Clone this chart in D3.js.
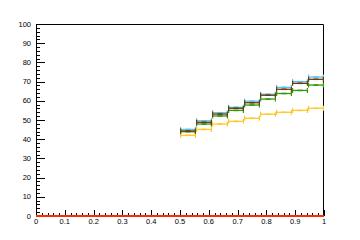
<!DOCTYPE html>
<html>
<head>
<meta charset="utf-8">
<script src="https://cdn.jsdelivr.net/npm/d3@7"></script>
<style>
  body { margin: 0; background: #fff; }
  svg { display: block; }
  text { font-family: "Liberation Sans", Arial, sans-serif; font-size: 7.5px; fill: #000; }
</style>
</head>
<body>
<div id="chart"></div>
<script>
// bin edges (9 bins from 0.5 to 1)
var binEdges = [0.5, 0.5556, 0.6111, 0.6667, 0.7222, 0.7778, 0.8333, 0.8889, 0.9444, 1.0];

// series values, one per bin
var blueVals   = [45.1, 49.6, 53.8, 56.6, 59.8, 63.4, 67.0, 70.0, 72.4];
var brownVals  = [44.3, 48.8, 53.1, 56.1, 59.0, 62.9, 66.0, 69.1, 71.2];
var greenVals  = [43.9, 47.9, 52.1, 55.0, 57.8, 60.9, 63.8, 65.4, 68.2];
var yellowVals = [42.0, 45.1, 47.9, 49.3, 50.9, 53.0, 54.0, 55.0, 56.1];
var errVals    = [0.4, 0.4, 0.4, 0.4, 0.4, 0.4, 0.4, 0.4, 0.4];

var xTicks = [0, 0.1, 0.2, 0.3, 0.4, 0.5, 0.6, 0.7, 0.8, 0.9, 1];
var yTicks = [0, 10, 20, 30, 40, 50, 60, 70, 80, 90, 100];

var W = 360, H = 240;
var margin = {left: 36, right: 36, top: 24, bottom: 24};

var svg = d3.select("#chart").append("svg").attr("width", W).attr("height", H);

var x = d3.scaleLinear().domain([0, 1]).range([margin.left, W - margin.right]);
var y = d3.scaleLinear().domain([0, 100]).range([H - margin.bottom, margin.top]);

// frame top and right
svg.append("path")
   .attr("d", "M" + x(0) + "," + (y(100)+0.5) + "H" + (x(1)-0.5) + "V" + y(0))
   .attr("fill", "none").attr("stroke", "#000").attr("stroke-width", 1);

// minor ticks
var xMinor = d3.range(0, 51).map(function(i){ return i / 50; });
var yMinor = d3.range(0, 51).map(function(i){ return i * 2; });

// x axis (ticks pointing up into frame)
var gx = svg.append("g").attr("transform", "translate(0," + y(0) + ")");
gx.selectAll(".minor").data(xMinor).enter().append("line")
  .attr("x1", function(d){ return Math.round(x(d)) + 0.5; })
  .attr("x2", function(d){ return Math.round(x(d)) + 0.5; })
  .attr("y1", 0).attr("y2", -3)
  .attr("stroke", "#000");
gx.selectAll(".major").data(xTicks).enter().append("line")
  .attr("x1", function(d){ return Math.round(x(d)) + 0.5; })
  .attr("x2", function(d){ return Math.round(x(d)) + 0.5; })
  .attr("y1", 0).attr("y2", -6)
  .attr("stroke", "#000");
gx.selectAll("text").data(xTicks).enter().append("text")
  .attr("x", function(d){ return x(d); })
  .attr("y", 8)
  .attr("text-anchor", "middle")
  .text(function(d){ return d; });
gx.append("line").attr("x1", x(0)).attr("x2", x(1)).attr("y1", 0.5).attr("y2", 0.5).attr("stroke", "#000");

// y axis (ticks pointing right into frame)
var gy = svg.append("g").attr("transform", "translate(" + x(0) + ",0)");
gy.selectAll(".minor").data(yMinor).enter().append("line")
  .attr("y1", function(d){ return Math.round(y(d)) + 0.5; })
  .attr("y2", function(d){ return Math.round(y(d)) + 0.5; })
  .attr("x1", 0).attr("x2", 4)
  .attr("stroke", "#000");
gy.selectAll(".major").data(yTicks).enter().append("line")
  .attr("y1", function(d){ return Math.round(y(d)) + 0.5; })
  .attr("y2", function(d){ return Math.round(y(d)) + 0.5; })
  .attr("x1", 0).attr("x2", 9)
  .attr("stroke", "#000");
gy.selectAll("text").data(yTicks).enter().append("text")
  .attr("x", -5)
  .attr("y", function(d){ return y(d); })
  .attr("dy", "0.35em")
  .attr("text-anchor", "end")
  .text(function(d){ return d; });
gy.append("line").attr("x1", 0.5).attr("x2", 0.5).attr("y1", y(0)).attr("y2", y(100)).attr("stroke", "#000");

// draw one histogram series with x-error bars and small y-error boxes
function drawSeries(vals, color){
  var g = svg.append("g");
  var bins = vals.map(function(v, i){ return {lo: binEdges[i], hi: binEdges[i+1], v: v, e: errVals[i]}; });
  g.selectAll(".h").data(bins).enter().append("line")
   .attr("x1", function(d){ return x(d.lo); })
   .attr("x2", function(d){ return x(d.hi); })
   .attr("y1", function(d){ return y(d.v); })
   .attr("y2", function(d){ return y(d.v); })
   .attr("stroke", color).attr("stroke-width", 1.3);
  ["lo", "hi"].forEach(function(k){
    g.selectAll(".t" + k).data(bins).enter().append("line")
     .attr("x1", function(d){ return x(d[k]) + (k == "lo" ? 0.6 : -0.6); })
     .attr("x2", function(d){ return x(d[k]) + (k == "lo" ? 0.6 : -0.6); })
     .attr("y1", function(d){ return y(d.v) - 2.5; })
     .attr("y2", function(d){ return y(d.v) + 2.5; })
     .attr("stroke", color).attr("stroke-width", 1.2);
  });
  g.selectAll(".e").data(bins).enter().append("rect")
   .attr("x", function(d){ return x((d.lo + d.hi) / 2) - 2.5; })
   .attr("width", 5)
   .attr("y", function(d){ return y(d.v + d.e); })
   .attr("height", function(d){ return y(d.v - d.e) - y(d.v + d.e); })
   .attr("fill", color);
}

drawSeries(yellowVals, "#ffc82e");
drawSeries(blueVals, "#5ac3f5");
drawSeries(greenVals, "#36960a");
drawSeries(brownVals, "#6b3c08");

// red histogram at zero over the full range
svg.append("line")
   .attr("x1", x(0)).attr("x2", x(1))
   .attr("y1", y(0)).attr("y2", y(0))
   .attr("stroke", "#ff2a00").attr("stroke-width", 2);
</script>
</body>
</html>
